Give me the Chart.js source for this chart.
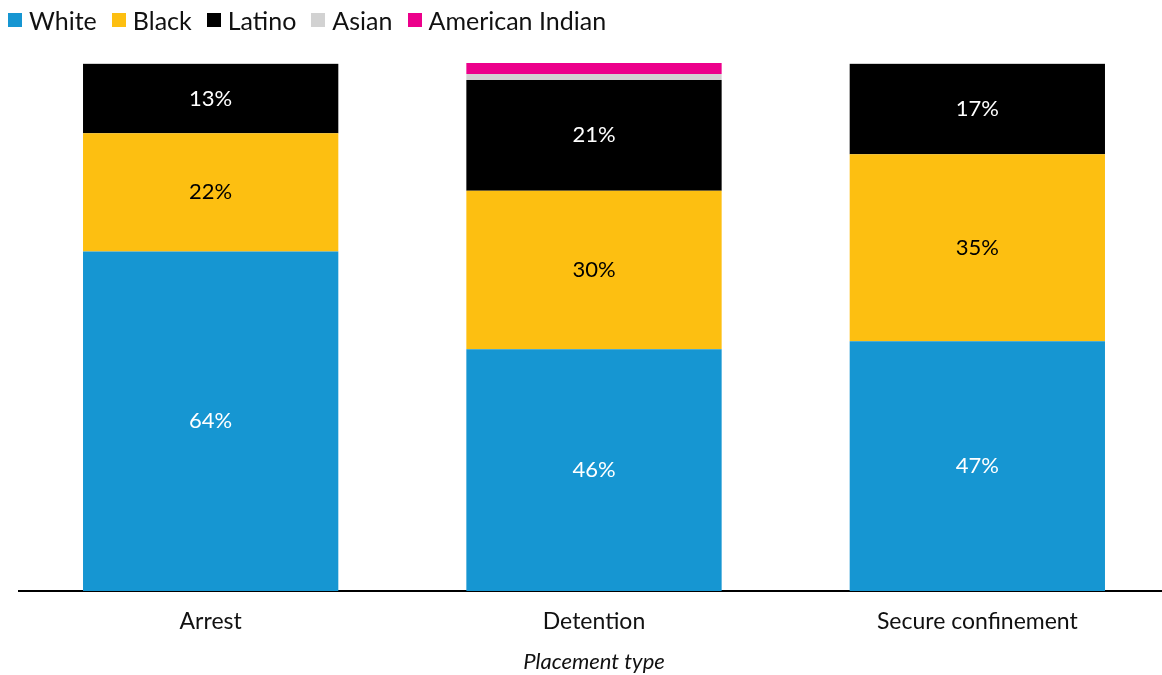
<!DOCTYPE html>
<html>
<head>
<meta charset="utf-8">
<script src="https://cdn.jsdelivr.net/npm/chart.js@4/dist/chart.umd.min.js"></script>
<style>
  html, body { margin: 0; padding: 0; background: #fff; overflow: hidden; }
  #wrap { position: relative; width: 1170px; height: 675px; }
  #legend {
    position: absolute; left: 8px; top: 5px; display: flex; align-items: center;
    font-family: Lato, sans-serif; font-size: 25px; color: #111; line-height: 30px;
  }
  #legend span.item { display: flex; align-items: center; margin-right: 15px; }
  #legend span.box { width: 14px; height: 14px; margin-right: 7px; display: inline-block; }
</style>
</head>
<body>
<div id="wrap">
  <div id="legend"></div>
  <canvas id="chart" width="1170" height="675"></canvas>
</div>
<script>
// Share of youth by race/ethnicity at each placement stage (%)
const categories = ["Arrest", "Detention", "Secure confinement"];
const seriesNames = ["White", "Black", "Latino", "Asian", "American Indian"];
const white = [64.3, 45.8, 47.3];
const black = [22.4, 30.0, 35.4];
const latino = [13.1, 21.0, 17.1];
const asian = [0.2, 1.1, 0.2];
const americanIndian = [0, 2.1, 0];
const colors = ["#1696d2", "#fdbf11", "#000000", "#d2d2d2", "#ec008b"];
const labelColors = ["#ffffff", "#000000", "#ffffff", null, null];

const seriesValues = [white, black, latino, asian, americanIndian];

// html legend
const legend = document.getElementById("legend");
seriesNames.forEach((name, i) => {
    const item = document.createElement("span");
    item.className = "item";
    item.innerHTML = `<span class="box" style="background:${colors[i]}"></span>${name}`;
    legend.appendChild(item);
});

// percent labels inside segments
const segmentLabels = {
    id: "segmentLabels",
    afterDatasetsDraw(chart) {
        const ctx = chart.ctx;
        ctx.save();
        ctx.font = "22px Lato";
        ctx.textAlign = "center";
        ctx.textBaseline = "middle";
        chart.data.datasets.forEach((ds, i) => {
            if (!labelColors[i]) return;
            const meta = chart.getDatasetMeta(i);
            meta.data.forEach((bar, j) => {
                const v = ds.data[j];
                ctx.fillStyle = labelColors[i];
                ctx.fillText(Math.round(v) + "%", bar.x, (bar.y + bar.base) / 2);
            });
        });
        ctx.restore();
    }
};

new Chart(document.getElementById("chart"), {
    type: "bar",
    data: {
        labels: categories,
        datasets: seriesNames.map((name, i) => ({
            label: name,
            data: seriesValues[i],
            backgroundColor: colors[i],
            borderWidth: 0,
            categoryPercentage: 1,
            barPercentage: 0.666
        }))
    },
    options: {
        responsive: false,
        animation: false,
        layout: { padding: { top: 63, left: 19, right: 1, bottom: 0 } },
        plugins: {
            legend: { display: false },
            tooltip: { enabled: false }
        },
        scales: {
            x: {
                stacked: true,
                grid: { display: false, drawTicks: false },
                border: { display: true, color: "#000", width: 2 },
                ticks: { color: "#111", font: { family: "Lato", size: 23, lineHeight: 1.2 }, padding: 17 },
                title: {
                    display: true,
                    text: "Placement type",
                    color: "#111",
                    font: { family: "Lato", size: 22, style: "italic" },
                    padding: { top: -4, bottom: 0 }
                }
            },
            y: {
                stacked: true,
                display: false,
                min: 0,
                max: 100
            }
        }
    },
    plugins: [segmentLabels]
});
</script>
</body>
</html>
